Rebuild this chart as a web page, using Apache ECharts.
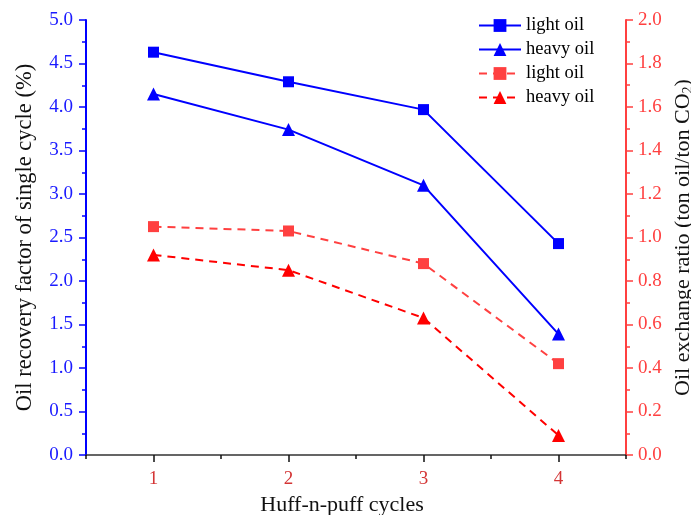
<!DOCTYPE html>
<html><head><meta charset="utf-8">
<script src="https://cdn.jsdelivr.net/npm/echarts@6/dist/echarts.min.js"></script>
<style>html,body{margin:0;padding:0;background:#fff}#c{width:691px;height:515px}</style>
</head><body><div id="c"></div>
<script>
const cycles = [1, 2, 3, 4];
const lightRecovery = [4.63, 4.29, 3.97, 2.43];
const heavyRecovery = [4.15, 3.74, 3.10, 1.39];
const lightExchange = [1.05, 1.03, 0.88, 0.42];
const heavyExchange = [0.92, 0.85, 0.63, 0.09];
const xTickLabels = [1, 2, 3, 4];
const xMinorTicks = [0.5, 1.5, 2.5, 3.5, 4.5];

const F = 'Liberation Serif, Times New Roman, serif';
const pair = (xs, ys) => xs.map((x, i) => [x, ys[i]]);

const chart = echarts.init(document.getElementById('c'), null, {renderer: 'canvas'});
chart.setOption({
  animation: false,
  backgroundColor: '#fff',
  grid: {left: 86, right: 65, top: 20, bottom: 60, containLabel: false, outerBoundsMode: 'none'},
  legend: {
    orient: 'vertical', left: 473, top: 11, itemWidth: 42, itemHeight: 16, itemGap: 5,
    textStyle: {fontFamily: F, fontSize: 18.5, lineHeight: 18.5, color: '#000'},
    data: ['light oil', 'heavy oil', 'light oil ', 'heavy oil ']
  },
  xAxis: [{
    type: 'value', min: 0.5, max: 4.5, position: 'bottom',
    name: 'Huff-n-puff cycles', nameLocation: 'middle', nameGap: 37,
    nameTextStyle: {fontFamily: F, fontSize: 22, color: '#111', padding: [0, 28, 0, 0]},
    axisLine: {show: true, lineStyle: {color: '#333', width: 1.5}},
    axisTick: {show: true, customValues: xTickLabels, length: 7, lineStyle: {color: '#111', width: 1.5}},
    axisLabel: {customValues: xTickLabels, fontFamily: F, fontSize: 19, color: '#d43535', margin: 15},
    splitLine: {show: false}
  }, {
    type: 'value', min: 0.5, max: 4.5, position: 'bottom',
    axisLine: {show: false},
    axisTick: {show: true, customValues: xMinorTicks, length: 4, lineStyle: {color: '#111', width: 1.5}},
    axisLabel: {show: false}, splitLine: {show: false}
  }],
  yAxis: [{
    type: 'value', min: 0, max: 5, interval: 0.5, position: 'left',
    name: 'Oil recovery factor of single cycle (%)', nameLocation: 'middle', nameGap: 49, nameRotate: 90,
    nameTextStyle: {fontFamily: F, fontSize: 22.5, color: '#111'},
    axisLine: {show: true, lineStyle: {color: '#0000ff', width: 2}},
    axisTick: {show: true, length: 7, lineStyle: {color: '#0000ff', width: 1.5}},
    minorTick: {show: true, splitNumber: 2, length: 4, lineStyle: {color: '#0000ff', width: 1.5}},
    axisLabel: {fontFamily: F, fontSize: 19, color: '#1a1aff', margin: 13, formatter: v => v.toFixed(1)},
    splitLine: {show: false}
  }, {
    type: 'value', min: 0, max: 2, interval: 0.2, position: 'right',
    name: '{a|Oil exchange ratio (ton oil/ton CO}{s|2}{a|)}', nameLocation: 'middle', nameGap: 44, nameRotate: 90,
    nameTextStyle: {fontFamily: F, fontSize: 22, color: '#111',
      rich: {a: {fontFamily: F, fontSize: 22, color: '#111'}, s: {fontFamily: F, fontSize: 14, color: '#111', verticalAlign: 'bottom', padding: [9, 0, 0, 0]}}},
    axisLine: {show: true, lineStyle: {color: '#ff4040', width: 2}},
    axisTick: {show: true, length: 7, lineStyle: {color: '#ff4040', width: 1.5}},
    minorTick: {show: true, splitNumber: 2, length: 4, lineStyle: {color: '#ff4040', width: 1.5}},
    axisLabel: {fontFamily: F, fontSize: 19, color: '#ff4040', margin: 12, formatter: v => v.toFixed(1)},
    splitLine: {show: false}
  }],
  series: [{
    name: 'light oil', type: 'line', xAxisIndex: 0, yAxisIndex: 0, data: pair(cycles, lightRecovery),
    symbol: 'rect', symbolSize: 11, color: '#0000ff', lineStyle: {color: '#0000ff', width: 2}, itemStyle: {color: '#0000ff'}
  }, {
    name: 'heavy oil', type: 'line', xAxisIndex: 0, yAxisIndex: 0, data: pair(cycles, heavyRecovery),
    symbol: 'triangle', symbolSize: 13, color: '#0000ff', lineStyle: {color: '#0000ff', width: 2}, itemStyle: {color: '#0000ff'}
  }, {
    name: 'light oil ', type: 'line', xAxisIndex: 0, yAxisIndex: 1, data: pair(cycles, lightExchange),
    symbol: 'rect', symbolSize: 11, color: '#ff4040', lineStyle: {color: '#ff4040', width: 2, type: [8, 6]}, itemStyle: {color: '#ff4040'}
  }, {
    name: 'heavy oil ', type: 'line', xAxisIndex: 0, yAxisIndex: 1, data: pair(cycles, heavyExchange),
    symbol: 'triangle', symbolSize: 13, color: '#ff0000', lineStyle: {color: '#ff0000', width: 2, type: [8, 6]}, itemStyle: {color: '#ff0000'}
  }]
});
</script></body></html>
